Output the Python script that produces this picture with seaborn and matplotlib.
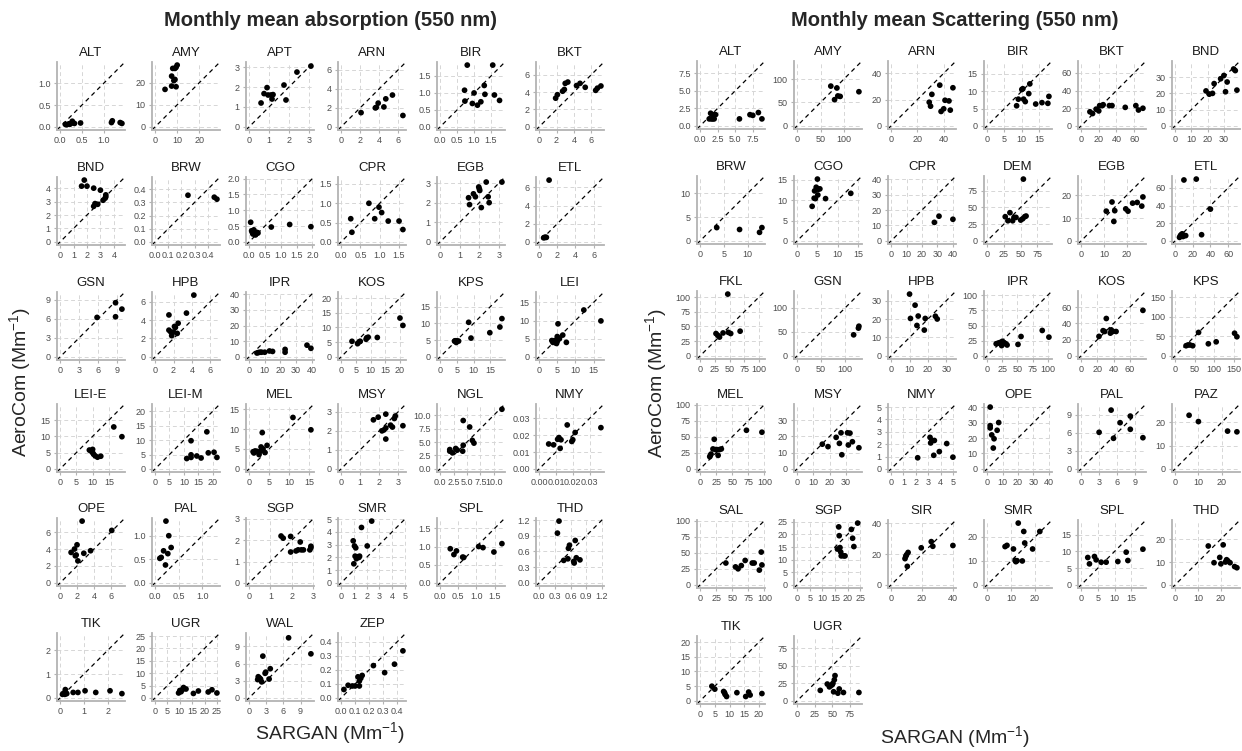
import matplotlib
matplotlib.use("Agg")
import matplotlib.pyplot as plt
from matplotlib.ticker import MultipleLocator, FormatStrFormatter
import seaborn as sns
import pandas as pd

# ---- absorption panels: (SARGAN, AeroCom) monthly means ----
abs_ALT = [(0.12, 0.06), (0.15, 0.05), (0.2, 0.07), (0.22, 0.06), (0.25, 0.08), (0.28, 0.13), (0.33, 0.08),
           (0.47, 0.09), (1.18, 0.1), (1.2, 0.14), (1.38, 0.1), (1.42, 0.08)]
abs_AMY = [(4.5, 17), (7.5, 18.5), (7.5, 23), (8, 26.5), (8.5, 21), (9, 26.5), (9, 21.5), (9.5, 18.2),
           (9.5, 27), (10, 28)]
abs_APT = [(0.6, 1.2), (0.75, 1.67), (0.9, 1.97), (0.95, 1.6), (1.1, 1.6), (1.15, 1.4), (1.2, 1.62),
           (1.75, 2.1), (1.85, 1.35), (2.4, 2.75), (3.1, 3.05)]
abs_ARN = [(2.1, 1.5), (3.6, 2.0), (3.7, 2.05), (3.9, 2.5), (4.5, 2.1), (4.7, 2.95), (5.4, 3.35), (6.5, 1.2)]
abs_BIR = [(0.72, 1.08), (0.73, 0.76), (0.8, 1.82), (0.95, 0.69), (1.0, 1.0), (1.1, 0.64), (1.2, 0.74),
           (1.3, 1.22), (1.32, 0.96), (1.55, 1.82), (1.6, 0.94), (1.75, 0.78)]
abs_BKT = [(1.9, 3.3), (2.1, 3.7), (2.7, 4.1), (2.9, 4.3), (3.0, 5.0), (3.3, 5.15), (4.3, 4.75), (4.7, 5.0),
           (5.3, 4.55), (6.5, 4.2), (6.7, 4.45), (7.1, 4.7)]
abs_BND = [(1.6, 4.15), (1.8, 4.6), (2.0, 4.15), (2.5, 4.0), (2.5, 2.65), (2.6, 2.85), (2.8, 2.8), (3.0, 3.85),
           (3.2, 3.1), (3.35, 3.25), (3.4, 3.5), (3.4, 3.35)]
abs_BRW = [(0.25, 0.355), (0.45, 0.34), (0.47, 0.325)]
abs_CGO = [(0.05, 0.62), (0.08, 0.35), (0.1, 0.3), (0.12, 0.25), (0.15, 0.38), (0.18, 0.3), (0.2, 0.22),
           (0.22, 0.25), (0.25, 0.3), (0.28, 0.28), (0.7, 0.47), (1.28, 0.55), (1.95, 0.48)]
abs_CPR = [(0.25, 0.6), (0.28, 0.25), (0.72, 1.0), (0.87, 0.6), (0.98, 0.9), (1.05, 0.76), (1.22, 0.54),
           (1.5, 0.54), (1.6, 0.32)]
abs_EGB = [(1.45, 2.25), (1.5, 1.9), (1.7, 2.45), (1.8, 2.3), (1.97, 2.8), (2.0, 2.7), (2.02, 2.62),
           (2.1, 1.75), (2.35, 3.05), (2.45, 2.3), (2.5, 2.0), (3.15, 3.05)]
abs_ETL = [(0.5, 0.45), (0.6, 0.5), (0.7, 0.5), (0.8, 0.5), (1.1, 6.8)]
abs_GSN = [(5.8, 6.2), (8.7, 8.5), (8.7, 6.3), (9.7, 7.5)]
abs_HPB = [(1.5, 4.55), (1.5, 2.9), (1.7, 2.7), (1.8, 2.3), (2.0, 2.7), (2.1, 3.3), (2.2, 3.2), (2.4, 2.55),
           (2.5, 3.65), (3.4, 4.75), (4.2, 6.7)]
abs_IPR = [(5, 2.5), (6, 2.8), (7, 3), (8, 3), (10, 3), (13, 3.8), (15, 3.5), (23, 3), (23, 4.8),
           (37, 7.5), (39.5, 5.5)]
abs_KOS = [(3.7, 5.3), (5.6, 4.5), (6.3, 5.2), (6.5, 5.3), (8.5, 6), (8.7, 6.5), (9.2, 6.7), (12.3, 6.6),
           (20, 13.2), (21, 10.7)]
abs_KPS = [(4.3, 4.7), (4.5, 4.8), (4.8, 4.3), (5.0, 4.8), (5.5, 4.7), (8.5, 10.3), (9.2, 5.6), (14.8, 7.2),
           (17.8, 8.9), (18.4, 11.4)]
abs_LEI = [(3.5, 4.5), (3.8, 4), (4.0, 4.3), (4.3, 4.5), (4.5, 3.9), (4.8, 3.7), (5.0, 4.3), (5.0, 5.6),
           (5.2, 9.1), (5.6, 5.0), (6.5, 6.0), (7.5, 4.0), (12.3, 12.9), (17, 9.9)]
abs_LEI_E = [(9, 5.8), (9.5, 5.5), (10, 6), (10, 5), (10.3, 4.5), (10.8, 4.0), (11.5, 3.6), (12.5, 3.9),
             (16.5, 12.9), (19, 9.9)]
abs_LEI_M = [(11, 3.6), (12.5, 9.8), (12.5, 4.9), (12.5, 4.0), (14.5, 4.5), (16, 3.8), (18, 12.9),
             (18.5, 5.6), (20.5, 5.8), (21.5, 4.0)]
abs_MEL = [(1, 4.3), (1.2, 4.0), (1.5, 4.5), (2, 4.4), (2.5, 3.6), (3, 4.5), (3, 5.5), (3.3, 9.1), (3.5, 5),
           (4, 4.1), (4.5, 5.9), (11, 12.9), (15.5, 9.8)]
abs_MSY = [(1.7, 2.58), (1.95, 2.72), (2.15, 2.0), (2.25, 2.05), (2.35, 2.88), (2.35, 2.15), (2.35, 1.57),
           (2.6, 2.3), (2.7, 2.2), (2.8, 2.65), (2.85, 2.78), (3.25, 2.27)]
abs_NGL = [(1.8, 3.6), (1.8, 3.3), (2.3, 3.0), (2.9, 3.8), (3.2, 3.5), (4.2, 3.3), (4.3, 4.4), (4.3, 9.0),
           (5.5, 7.8), (6.0, 5.3), (6.3, 4.8), (11.5, 11.1)]
abs_NMY = [(0.0057, 0.0148), (0.0086, 0.0143), (0.011, 0.0176), (0.0118, 0.0186), (0.0125, 0.0122),
           (0.013, 0.0173), (0.0167, 0.0261), (0.0194, 0.0163), (0.02, 0.0173), (0.0214, 0.0216),
           (0.0367, 0.0245)]
abs_OPE = [(1.3, 3.6), (1.7, 4.0), (1.8, 3.2), (1.9, 3.3), (2.0, 4.5), (2.1, 2.6), (2.6, 7.3), (2.8, 3.5),
           (3.6, 3.8), (6.1, 6.2)]
abs_PAL = [(0.1, 0.52), (0.13, 0.54), (0.18, 0.68), (0.22, 0.38), (0.23, 1.31), (0.27, 0.62), (0.29, 1.0),
           (0.34, 0.75)]
abs_SGP = [(1.5, 2.2), (1.6, 2.1), (1.95, 2.18), (1.95, 1.45), (2.2, 1.5), (2.3, 1.55), (2.4, 1.92),
           (2.45, 1.55), (2.55, 1.55), (2.85, 1.55), (2.9, 1.65), (2.9, 1.72)]
abs_SMR = [(0.95, 3.3), (1.0, 1.5), (1.05, 2.9), (1.1, 2.1), (1.15, 2.75), (1.2, 1.9), (1.3, 2.05),
           (1.4, 2.0), (1.45, 2.1), (1.6, 4.35), (2.05, 2.9), (2.4, 4.85)]
abs_SPL = [(0.28, 0.94), (0.38, 0.78), (0.45, 0.88), (0.62, 0.71), (0.65, 0.7), (1.06, 1.0), (1.18, 0.97),
           (1.48, 0.85), (1.7, 1.08)]
abs_THD = [(0.35, 0.95), (0.38, 1.18), (0.47, 0.43), (0.55, 0.46), (0.56, 0.66), (0.58, 0.72), (0.66, 0.41),
           (0.67, 0.38), (0.69, 0.81), (0.71, 0.48), (0.78, 0.44)]
abs_TIK = [(0.1, 0.15), (0.15, 0.2), (0.2, 0.15), (0.22, 0.35), (0.25, 0.2), (0.28, 0.18), (0.55, 0.23),
           (0.75, 0.23), (1.05, 0.3), (1.5, 0.23), (2.1, 0.3), (2.6, 0.18)]
abs_UGR = [(9.5, 2), (10, 3), (10.5, 2.5), (11, 3.3), (11.5, 4.2), (12.5, 3.6), (15.5, 1.8), (17.5, 2.8),
           (21.5, 2.4), (23, 3.3), (25, 2)]
abs_WAL = [(1.5, 3.2), (1.6, 3.7), (1.8, 3.5), (2.0, 3.3), (2.2, 2.8), (2.4, 7.3), (2.8, 4.3), (2.9, 4.5),
           (3.5, 3.3), (3.7, 5.1), (6.9, 10.5), (10.8, 7.7)]
abs_ZEP = [(0.02, 0.06), (0.05, 0.09), (0.08, 0.085), (0.1, 0.085), (0.12, 0.15), (0.13, 0.12),
           (0.13, 0.085), (0.14, 0.14), (0.15, 0.16), (0.23, 0.23), (0.31, 0.18), (0.38, 0.24), (0.44, 0.335)]

abs_sites = ["ALT", "AMY", "APT", "ARN", "BIR", "BKT", "BND", "BRW", "CGO", "CPR", "EGB", "ETL",
             "GSN", "HPB", "IPR", "KOS", "KPS", "LEI", "LEI-E", "LEI-M", "MEL", "MSY", "NGL", "NMY",
             "OPE", "PAL", "SGP", "SMR", "SPL", "THD", "TIK", "UGR", "WAL", "ZEP"]
abs_data = [abs_ALT, abs_AMY, abs_APT, abs_ARN, abs_BIR, abs_BKT, abs_BND, abs_BRW, abs_CGO, abs_CPR,
            abs_EGB, abs_ETL, abs_GSN, abs_HPB, abs_IPR, abs_KOS, abs_KPS, abs_LEI, abs_LEI_E, abs_LEI_M,
            abs_MEL, abs_MSY, abs_NGL, abs_NMY, abs_OPE, abs_PAL, abs_SGP, abs_SMR, abs_SPL, abs_THD,
            abs_TIK, abs_UGR, abs_WAL, abs_ZEP]
abs_steps = [0.5, 10, 1, 2, 0.5, 2, 1, 0.1, 0.5, 0.5, 1, 2,
             3, 2, 10, 5, 5, 5, 5, 5, 5, 1, 2.5, 0.01,
             2, 0.5, 1, 1, 0.5, 0.3, 1, 5, 3, 0.1]

# ---- scattering panels ----
sca_ALT = [(1.3, 1.0), (1.5, 1.8), (1.6, 1.0), (1.8, 1.0), (1.9, 1.6), (2.0, 1.0), (2.2, 1.6), (5.6, 1.0),
           (7.1, 1.6), (7.5, 1.5), (8.3, 1.9), (8.8, 1.0)]
sca_AMY = [(72, 85), (80, 56), (85, 81), (87, 64), (92, 63), (132, 73)]
sca_ARN = [(29, 18), (30, 15), (31, 24), (37, 31), (38, 11), (40, 13), (41, 19.5), (44, 19), (45, 12),
           (47, 29)]
sca_BIR = [(8.5, 5.8), (9, 7.7), (10, 10.5), (10.3, 10.7), (10.5, 7.7), (11, 7.0), (12, 9.3), (12.3, 12.1),
           (14, 6.3), (15.8, 6.7), (17.5, 6.5), (17.8, 8.5)]
sca_BKT = [(10, 16), (13, 14), (17, 19), (20, 17), (21, 23), (24, 23), (25, 24), (32, 23), (35, 23),
           (50, 21), (62, 23), (65, 18), (70, 20)]
sca_BND = [(19, 21.5), (21, 19.5), (23, 20), (24, 26), (28, 29), (30, 31), (31, 21), (32, 27), (36, 35),
           (37, 34), (38, 22)]
sca_BRW = [(3.5, 2.8), (8.3, 2.4), (12.5, 1.8), (13, 2.8)]
sca_CGO = [(3.7, 8.5), (4.2, 10.5), (4.3, 12.3), (4.5, 10.4), (4.7, 13.2), (5, 15.2), (5.1, 11.3),
           (5.2, 12.7), (5.6, 12.8), (7, 10.4), (13.2, 11.7)]
sca_CPR = [(28, 12), (31, 16), (40, 14)]
sca_DEM = [(27, 36), (31, 30), (34, 42), (38, 30), (40, 35), (43, 35), (50, 31), (53, 33), (54, 92),
           (56, 36), (58, 37)]
sca_EGB = [(11, 13), (13.5, 17), (14.3, 8.5), (14.7, 13.2), (19.5, 14), (20.5, 13), (22.5, 16.5),
           (24.5, 16.8), (26.5, 15.2), (27, 19.2)]
sca_ETL = [(5, 4), (6, 6), (7, 7), (8, 8), (9, 5), (10, 69), (12, 6), (24, 70), (30, 7), (40, 36)]
sca_FKL = [(27, 38), (30, 35), (33, 32), (39, 39), (47, 105), (48, 40), (52, 38), (68, 42)]
sca_GSN = [(118, 44), (128, 58), (129, 62)]
sca_HPB = [(10, 33.5), (10.5, 20.3), (13, 27.5), (14, 16.5), (14.7, 21.6), (18, 14), (18.5, 20.3),
           (24, 21.5), (25, 20)]
sca_IPR = [(15, 20), (18, 21), (21, 22), (24, 17), (25, 24), (28, 22), (31, 20), (33, 18), (51, 19),
           (56, 32), (91, 42), (102, 31)]
sca_KOS = [(22, 24), (27, 31), (29, 30), (31, 46), (36, 28), (37, 32), (39, 30), (43, 30), (76, 56)]
sca_KPS = [(28, 26), (33, 28), (38, 28), (45, 26), (60, 60), (85, 31), (105, 36), (152, 58), (158, 49)]
sca_MEL = [(15, 19), (16, 21), (17, 23), (20, 31), (22, 46), (24, 30), (26, 30), (28, 21), (30, 30),
           (33, 31), (72, 60), (96, 57)]
sca_MSY = [(15.5, 15.2), (19, 13.7), (24, 19.4), (26, 15.7), (27, 22.2), (27.5, 8.7), (31, 22.2),
           (31.5, 14.7), (32.5, 22), (34, 16.7), (38, 13)]
sca_NMY = [(2.15, 0.9), (3.15, 2.55), (3.2, 2.1), (3.3, 2.3), (3.5, 2.3), (3.45, 1.1), (3.9, 1.4),
           (4.5, 2.05), (5.0, 0.95)]
sca_OPE = [(2, 40), (2, 28), (2, 26.5), (3, 22), (4, 13.5), (4.5, 19.5), (6.5, 25), (7.5, 30)]
sca_PAL = [(3, 6.1), (5, 9.8), (5.4, 5.1), (6.5, 7.7), (8.2, 8.8), (8.2, 6.6), (10.3, 5.2)]
sca_PAZ = [(6, 23), (10, 20.3), (22.5, 16.2), (26.5, 15.9)]
sca_SAL = [(40, 34), (55, 28), (59, 25), (64, 30), (70, 38), (81, 34), (84, 34), (92, 23), (95, 51),
           (96, 31)]
sca_SGP = [(16, 14.2), (16.5, 23), (16.7, 19.5), (17, 14.8), (17.3, 13), (17.5, 11.5), (18.5, 11.5),
           (19, 11.5), (21.5, 22), (22, 18.5), (22.5, 15.2), (24, 24.5)]
sca_SIR = [(9, 17), (9.5, 18.5), (10, 19.5), (10.5, 12), (11, 21), (19.5, 24), (26, 28), (27, 25), (40, 25.5)]
sca_SMR = [(7.5, 16), (8.3, 16.5), (11, 15), (11.7, 10.2), (12, 9.7), (12.5, 10.1), (13, 25.8), (14.7, 10),
           (15.3, 22.3), (15.7, 17.5), (19, 15), (22, 22.3)]
sca_SPL = [(2, 8.2), (2.5, 6.3), (4, 8.5), (4.5, 7.5), (6, 6.8), (7.5, 6.8), (11, 7), (13.5, 9.8),
           (14, 7.3), (18.5, 10.7)]
sca_THD = [(14.5, 17), (17, 9.7), (19.5, 12), (20, 9.2), (21, 17.5), (22, 10), (22.5, 11), (23, 10.5),
           (24, 9.7), (26, 8), (27, 7.5)]
sca_TIK = [(4, 5), (5, 4), (8, 3.2), (8.3, 2.8), (8.5, 2.2), (9, 1.5), (12.5, 2.8), (15.5, 1.5), (16.5, 3),
           (17, 2), (21, 2.5)]
sca_UGR = [(33, 15), (43, 24), (46, 20), (48, 22), (50, 23), (51, 25), (52, 13), (53, 30), (54, 36),
           (58, 11), (60, 17), (66, 12), (88, 12)]

sca_sites = ["ALT", "AMY", "ARN", "BIR", "BKT", "BND", "BRW", "CGO", "CPR", "DEM", "EGB", "ETL",
             "FKL", "GSN", "HPB", "IPR", "KOS", "KPS", "MEL", "MSY", "NMY", "OPE", "PAL", "PAZ",
             "SAL", "SGP", "SIR", "SMR", "SPL", "THD", "TIK", "UGR"]
sca_data = [sca_ALT, sca_AMY, sca_ARN, sca_BIR, sca_BKT, sca_BND, sca_BRW, sca_CGO, sca_CPR, sca_DEM,
            sca_EGB, sca_ETL, sca_FKL, sca_GSN, sca_HPB, sca_IPR, sca_KOS, sca_KPS, sca_MEL, sca_MSY,
            sca_NMY, sca_OPE, sca_PAL, sca_PAZ, sca_SAL, sca_SGP, sca_SIR, sca_SMR, sca_SPL, sca_THD,
            sca_TIK, sca_UGR]
sca_steps = [2.5, 50, 20, 5, 20, 10, 5, 5, 10, 25, 10, 20,
             25, 50, 10, 25, 20, 50, 25, 10, 1, 10, 3, 10,
             25, 5, 20, 10, 5, 10, 5, 25]

# ---- layout (pixels) ----
W, H = 1242, 751
PW, PH = 68, 68
abs_cols = [57, 152, 246, 338, 437, 536]
abs_rows = [62, 177, 292, 404, 518, 633]
sca_cols = [697, 794, 888, 984, 1078, 1172]
sca_rows = [61, 176, 291, 404, 520, 636]

sns.set_theme(style="ticks")
plt.rcParams["font.family"] = ["Liberation Sans", "DejaVu Sans"]
plt.rcParams["mathtext.default"] = "regular"

fig = plt.figure(figsize=(W / 100, H / 100), dpi=100)


def decimals(step):
    s = f"{step:g}"
    return len(s.split(".")[1]) if "." in s else 0


def draw_panel(left, top, site, pts, step):
    ax = fig.add_axes([left / W, 1 - (top + PH) / H, PW / W, PH / H])
    df = pd.DataFrame(pts, columns=["sargan", "aerocom"])
    m = df.values.max()
    ax.axline((0, 0), slope=1, color="black", lw=0.9, ls=(0, (3.5, 3)), zorder=2)
    sns.scatterplot(data=df, x="sargan", y="aerocom", ax=ax, color="black", s=17,
                    edgecolor="none", linewidth=0, zorder=3)
    ax.set_xlim(-0.05 * m, 1.05 * m)
    ax.set_ylim(-0.05 * m, 1.05 * m)
    fmt = FormatStrFormatter(f"%.{decimals(step)}f")
    for axis in (ax.xaxis, ax.yaxis):
        axis.set_major_locator(MultipleLocator(step))
        axis.set_major_formatter(fmt)
    ax.set_xlabel("")
    ax.set_ylabel("")
    ax.set_title(site, fontsize=9.5, pad=4, color="#1a1a1a")
    ax.tick_params(labelsize=6.5, labelcolor="#4d4d4d", color="#b3b3b3", length=2.5, width=0.8, pad=2)
    ax.grid(True, ls=(0, (4, 3)), color="#d6d6d6", lw=0.7)
    ax.set_axisbelow(True)
    sns.despine(ax=ax)
    for sp in ("left", "bottom"):
        ax.spines[sp].set_color("#b3b3b3")
        ax.spines[sp].set_linewidth(1.3)
    return ax


for i, (site, pts, step) in enumerate(zip(abs_sites, abs_data, abs_steps)):
    draw_panel(abs_cols[i % 6], abs_rows[i // 6], site, pts, step)

for i, (site, pts, step) in enumerate(zip(sca_sites, sca_data, sca_steps)):
    draw_panel(sca_cols[i % 6], sca_rows[i // 6], site, pts, step)

# panel titles and shared axis labels
fig.text(330 / W, 1 - 20 / H, "Monthly mean absorption (550 nm)", ha="center", va="center",
         fontsize=14.5, fontweight="bold")
fig.text(955 / W, 1 - 20 / H, "Monthly mean Scattering (550 nm)", ha="center", va="center",
         fontsize=14.5, fontweight="bold")
fig.text(330 / W, 1 - 733 / H, "SARGAN (Mm$^{-1}$)", ha="center", va="center", fontsize=14)
fig.text(955 / W, 1 - 737 / H, "SARGAN (Mm$^{-1}$)", ha="center", va="center", fontsize=14)
fig.text(20 / W, 1 - 382 / H, "AeroCom (Mm$^{-1}$)", ha="center", va="center", fontsize=14,
         rotation=90)
fig.text(656 / W, 1 - 383 / H, "AeroCom (Mm$^{-1}$)", ha="center", va="center", fontsize=14,
         rotation=90)

fig.savefig("out.png", dpi=100)
